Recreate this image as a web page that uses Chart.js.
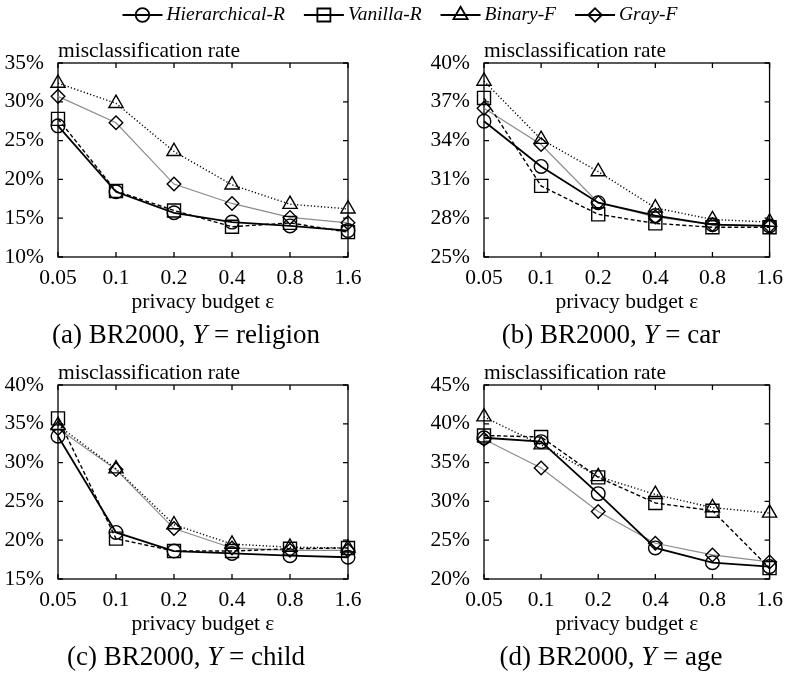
<!DOCTYPE html>
<html><head><meta charset="utf-8">
<script src="https://cdn.jsdelivr.net/npm/chart.js@4.4.0/dist/chart.umd.min.js"></script>
<style>
html,body{margin:0;padding:0;background:#fff;}
body{width:791px;height:680px;position:relative;overflow:hidden;font-family:"Liberation Serif","Times New Roman",serif;color:#000;}
canvas{position:absolute;}
.cap{position:absolute;font-size:27px;line-height:28px;white-space:nowrap;transform:translateX(-50%);}
</style></head><body>
<canvas id="legend" style="left:0;top:0" width="791" height="32"></canvas>
<canvas id="pa" style="left:0;top:30px"></canvas>
<canvas id="pb" style="left:395px;top:30px"></canvas>
<canvas id="pc" style="left:0;top:352px"></canvas>
<canvas id="pd" style="left:395px;top:352px"></canvas>
<div class="cap" style="left:186px;top:320px">(a) BR2000, <i>Y</i> = religion</div>
<div class="cap" style="left:611px;top:320px">(b) BR2000, <i>Y</i> = car</div>
<div class="cap" style="left:186px;top:642px">(c) BR2000, <i>Y</i> = child</div>
<div class="cap" style="left:611px;top:642px">(d) BR2000, <i>Y</i> = age</div>
<script>
// ---------- data ----------
const epsilonLabels = ['0.05', '0.1', '0.2', '0.4', '0.8', '1.6'];
const seriesNames = ['Hierarchical-R', 'Vanilla-R', 'Binary-F', 'Gray-F'];

const religionHierR  = [26.9, 18.4, 15.7, 14.5, 14.0, 13.4];
const religionVanR   = [27.8, 18.5, 16.0, 13.9, 14.4, 13.2];
const religionBinF   = [32.4, 29.8, 23.6, 19.3, 16.8, 16.2];
const religionGrayF  = [30.7, 27.3, 19.4, 16.9, 15.1, 14.4];

const carHierR  = [35.5, 32.0, 29.2, 28.2, 27.5, 27.4];
const carVanR   = [37.3, 30.5, 28.3, 27.6, 27.3, 27.3];
const carBinF   = [38.6, 34.1, 31.6, 28.8, 27.9, 27.7];
const carGrayF  = [36.5, 33.7, 29.2, 28.1, 27.5, 27.4];

const childHierR  = [33.4, 21.0, 18.6, 18.3, 18.0, 17.8];
const childVanR   = [35.7, 20.2, 18.6, 18.6, 18.9, 19.0];
const childBinF   = [34.8, 29.2, 22.0, 19.5, 19.1, 19.0];
const childGrayF  = [34.4, 29.1, 21.5, 19.0, 18.7, 18.7];

const ageHierR  = [38.2, 37.7, 31.0, 24.0, 22.1, 21.6];
const ageVanR   = [38.5, 38.3, 33.1, 29.8, 28.8, 21.4];
const ageBinF   = [40.9, 37.3, 33.2, 30.9, 29.2, 28.5];
const ageGrayF  = [38.0, 34.3, 28.7, 24.6, 23.1, 22.2];

// y-axis ranges: [min, max, step] (tick labels in %)
const religionYTicks = [10, 35, 5];
const carYTicks      = [25, 40, 3];
const childYTicks    = [15, 40, 5];
const ageYTicks      = [20, 45, 5];

const yAxisTitle = 'misclassification rate';
const xAxisTitle = 'privacy budget \u03B5';

// ---------- styles ----------
const SERIF = '"Liberation Serif", "Times New Roman", serif';
const FS = 21.5;
const STYLES = [
  {color: '#000000', width: 1.8, dash: [], point: 'circle', r: 6.8},
  {color: '#000000', width: 1.4, dash: [4, 2.5], point: 'rect', r: 9.2},
  {color: '#000000', width: 1.4, dash: [1.2, 2.2], point: 'triangle', r: 8.2},
  {color: '#8c8c8c', width: 1.2, dash: [], point: 'rectRot', r: 6.8}
];

const framePlugin = {
  id: 'frame',
  beforeDatasetsDraw(chart) {
    const {ctx, chartArea: a, scales} = chart;
    const x = scales.x, y = scales.y;
    ctx.save();
    ctx.strokeStyle = '#000';
    ctx.lineWidth = 1.3;
    ctx.setLineDash([]);
    ctx.strokeRect(a.left, a.top, a.right - a.left, a.bottom - a.top);
    const L = 5;
    ctx.beginPath();
    y.ticks.forEach((t, i) => {
      const py = y.getPixelForTick(i);
      ctx.moveTo(a.left, py); ctx.lineTo(a.left + L, py);
      ctx.moveTo(a.right, py); ctx.lineTo(a.right - L, py);
    });
    x.ticks.forEach((t, i) => {
      const px = x.getPixelForTick(i);
      ctx.moveTo(px, a.bottom); ctx.lineTo(px, a.bottom - L);
      ctx.moveTo(px, a.top); ctx.lineTo(px, a.top + L);
    });
    ctx.stroke();
    ctx.fillStyle = '#000';
    ctx.font = FS + 'px ' + SERIF;
    ctx.textAlign = 'left';
    ctx.textBaseline = 'middle';
    ctx.fillText(yAxisTitle, a.left, a.top - 11.5);
    ctx.restore();
  }
};

function makePanel(id, w, h, area, yt, series) {
  const canvas = document.getElementById(id);
  canvas.width = w; canvas.height = h;
  canvas.style.width = w + 'px'; canvas.style.height = h + 'px';
  return new Chart(canvas, {
    type: 'line',
    data: {
      labels: epsilonLabels,
      datasets: series.map((d, i) => ({
        label: seriesNames[i],
        data: d,
        borderColor: STYLES[i].color,
        borderWidth: STYLES[i].width,
        borderDash: STYLES[i].dash,
        pointStyle: STYLES[i].point,
        pointRadius: STYLES[i].r,
        pointHoverRadius: STYLES[i].r,
        pointBorderColor: '#000',
        pointBackgroundColor: 'rgba(0,0,0,0)',
        pointBorderWidth: 1.4,
        tension: 0,
        fill: false,
        clip: false
      }))
    },
    options: {
      responsive: false,
      animation: false,
      devicePixelRatio: 1,
      events: [],
      layout: {padding: {left: 0, top: area.top, right: w - area.right, bottom: 0}},
      plugins: {legend: {display: false}, tooltip: {enabled: false}, title: {display: false}},
      scales: {
        x: {
          type: 'category', offset: false,
          grid: {display: false, drawTicks: false}, border: {display: false},
          ticks: {color: '#000', font: {family: SERIF, size: FS}, padding: 8, maxRotation: 0, autoSkip: false},
          title: {display: true, text: xAxisTitle, color: '#000', font: {family: SERIF, size: FS}, padding: {top: 0, bottom: 5}},
          afterFit(s) { s.height = h - area.bottom; }
        },
        y: {
          min: yt[0], max: yt[1],
          grid: {display: false, drawTicks: false}, border: {display: false},
          ticks: {stepSize: yt[2], color: '#000', font: {family: SERIF, size: FS}, padding: 14,
                  callback: v => v + '%'},
          afterFit(s) { s.width = area.left; }
        }
      }
    },
    plugins: [framePlugin]
  });
}

makePanel('pa', 395, 290, {left: 58, right: 348, top: 33, bottom: 227}, religionYTicks,
  [religionHierR, religionVanR, religionBinF, religionGrayF]);
makePanel('pb', 396, 290, {left: 89, right: 378, top: 33, bottom: 227}, carYTicks,
  [carHierR, carVanR, carBinF, carGrayF]);
makePanel('pc', 395, 290, {left: 58, right: 348, top: 33, bottom: 227}, childYTicks,
  [childHierR, childVanR, childBinF, childGrayF]);
makePanel('pd', 396, 290, {left: 89, right: 378, top: 33, bottom: 227}, ageYTicks,
  [ageHierR, ageVanR, ageBinF, ageGrayF]);

// ---------- legend ----------
(function drawLegend() {
  const c = document.getElementById('legend');
  const ctx = c.getContext('2d');
  const font = 'italic 19.5px ' + SERIF;
  ctx.font = font;
  const sampleW = 40, gapText = 4, gapItem = 19;
  const widths = seriesNames.map(n => sampleW + gapText + ctx.measureText(n).width);
  const total = widths.reduce((a, b) => a + b, 0) + gapItem * (seriesNames.length - 1);
  let x = 400 - total / 2;
  const cy = 15;
  seriesNames.forEach((name, i) => {
    const s = STYLES[i];
    ctx.save();
    ctx.strokeStyle = '#000';
    ctx.lineWidth = 2;
    ctx.beginPath(); ctx.moveTo(x, cy); ctx.lineTo(x + sampleW, cy); ctx.stroke();
    ctx.restore();
    ctx.save();
    ctx.strokeStyle = '#000';
    ctx.fillStyle = 'rgba(0,0,0,0)';
    ctx.lineWidth = 1.8;
    Chart.helpers.drawPoint(ctx, {pointStyle: s.point, radius: s.r, rotation: 0, borderWidth: 1.8}, x + sampleW / 2, cy);
    ctx.restore();
    ctx.fillStyle = '#000';
    ctx.font = font;
    ctx.textAlign = 'left';
    ctx.textBaseline = 'middle';
    ctx.fillText(name, x + sampleW + gapText, cy);
    x += widths[i] + gapItem;
  });
})();
</script>
</body></html>
